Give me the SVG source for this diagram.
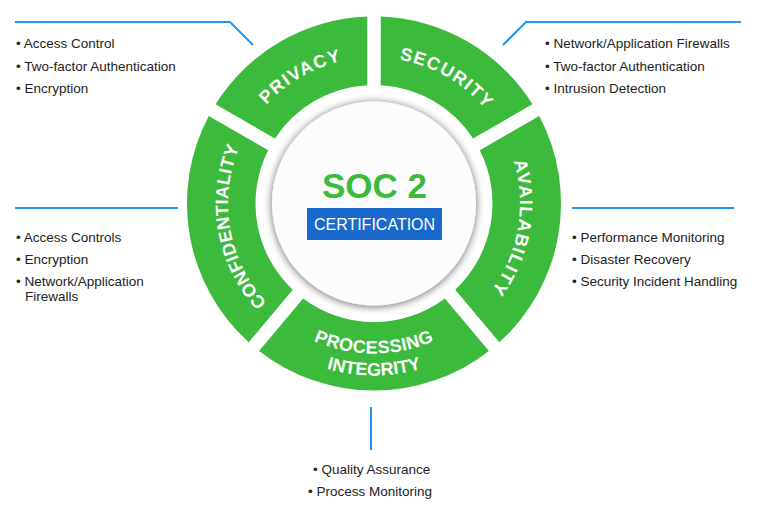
<svg xmlns="http://www.w3.org/2000/svg" xmlns:xlink="http://www.w3.org/1999/xlink" width="768" height="509" viewBox="0 0 768 509">
<style>
.seg{fill:#3bba3b}
.lbl{font-family:"Liberation Sans",Arial,sans-serif;font-weight:bold;font-size:18px;fill:#ffffff}
.li{font-family:"Liberation Sans",Arial,sans-serif;font-size:13.5px;fill:#222222}
.con{stroke:#2196f3;stroke-width:2;fill:none}
</style>
<defs>
<filter id="sh" x="-20%" y="-20%" width="140%" height="140%">
<feGaussianBlur in="SourceAlpha" stdDeviation="4"/>
<feOffset dx="0" dy="1" result="b"/>
<feComponentTransfer><feFuncA type="linear" slope="0.6"/></feComponentTransfer>
<feMerge><feMergeNode/><feMergeNode in="SourceGraphic"/></feMerge>
</filter>
<path id="pPrivacy" d="M228,203.5 A146,146 0 0 1 447,77.06"/>
<path id="pSecurity" d="M301,77.06 A146,146 0 0 1 520,203.5"/>
<path id="pAvail" d="M467.85,91.66 A146,146 0 0 1 423.93,340.69"/>
<path id="pConf" d="M324.07,340.69 A146,146 0 0 1 280.15,91.66"/>
<path id="pProc" d="M244.1,278.5 A150,150 0 0 0 503.9,278.5"/>
<path id="pInteg" d="M225.04,289.5 A172,172 0 0 0 522.96,289.5"/>
</defs>
<rect width="768" height="509" fill="#ffffff"/>

<g id="connectors">
<polyline class="con" points="15,22 230,22 253,45"/>
<polyline class="con" points="503,45 526,22 741,22"/>
<line class="con" x1="15" y1="208" x2="178" y2="208"/>
<line class="con" x1="572" y1="208" x2="734" y2="208"/>
<line class="con" x1="371" y1="407" x2="371" y2="450"/>
</g>

<g id="node-security">
<path class="seg" d="M380.75,16.62 A187,187 0 0 1 532.47,104.21 L473.08,138.5 A118.5,118.5 0 0 0 380.75,85.19 Z"/>
<text class="lbl" letter-spacing="1.4"><textPath xlink:href="#pSecurity" href="#pSecurity" startOffset="50%" text-anchor="middle">SECURITY</textPath></text>
</g>
<g id="node-availability">
<path class="seg" d="M539.22,115.91 A187,187 0 0 1 499.3,342.32 L455.22,289.79 A118.5,118.5 0 0 0 479.83,150.19 Z"/>
<text class="lbl" letter-spacing="1.3"><textPath xlink:href="#pAvail" href="#pAvail" startOffset="50%" text-anchor="middle">AVAILABILITY</textPath></text>
</g>
<g id="node-processing">
<path class="seg" d="M488.95,351 A187,187 0 0 1 259.05,351 L303.12,298.47 A118.5,118.5 0 0 0 444.88,298.47 Z"/>
<text class="lbl" letter-spacing="0.4"><textPath xlink:href="#pProc" href="#pProc" startOffset="50%" text-anchor="middle">PROCESSING</textPath></text>
<text class="lbl"><textPath xlink:href="#pInteg" href="#pInteg" startOffset="50%" text-anchor="middle">INTEGRITY</textPath></text>
</g>
<g id="node-confidentiality">
<path class="seg" d="M248.7,342.32 A187,187 0 0 1 208.78,115.91 L268.17,150.19 A118.5,118.5 0 0 0 292.78,289.79 Z"/>
<text class="lbl" letter-spacing="0.3"><textPath xlink:href="#pConf" href="#pConf" startOffset="50%" text-anchor="middle">CONFIDENTIALITY</textPath></text>
</g>
<g id="node-privacy">
<path class="seg" d="M215.53,104.21 A187,187 0 0 1 367.25,16.62 L367.25,85.19 A118.5,118.5 0 0 0 274.92,138.5 Z"/>
<text class="lbl" letter-spacing="1.5"><textPath xlink:href="#pPrivacy" href="#pPrivacy" startOffset="50%" text-anchor="middle">PRIVACY</textPath></text>
</g>

<g id="node-center">
<circle cx="374" cy="203.5" r="102" fill="#fcfcfc" filter="url(#sh)"/>
<text x="374.5" y="198" text-anchor="middle" font-family="'Liberation Sans',Arial,sans-serif" font-weight="bold" font-size="35" fill="#3bba3b">SOC 2</text>
<rect x="307" y="208" width="135" height="32" fill="#1a69cc"/>
<text x="374.5" y="230" text-anchor="middle" font-family="'Liberation Sans',Arial,sans-serif" font-size="16" fill="#ffffff">CERTIFICATION</text>
</g>

<g id="list-privacy">
<text class="li" x="16" y="48">• Access Control</text>
<text class="li" x="16" y="70.5">• Two-factor Authentication</text>
<text class="li" x="16" y="93">• Encryption</text>
</g>
<g id="list-security">
<text class="li" x="545" y="48">• Network/Application Firewalls</text>
<text class="li" x="545" y="70.5">• Two-factor Authentication</text>
<text class="li" x="545" y="93">• Intrusion Detection</text>
</g>
<g id="list-confidentiality">
<text class="li" x="16" y="242">• Access Controls</text>
<text class="li" x="16" y="264">• Encryption</text>
<text class="li" x="16" y="286">• Network/Application</text>
<text class="li" x="25" y="301">Firewalls</text>
</g>
<g id="list-availability">
<text class="li" x="572" y="242">• Performance Monitoring</text>
<text class="li" x="572" y="264">• Disaster Recovery</text>
<text class="li" x="572" y="286">• Security Incident Handling</text>
</g>
<g id="list-processing">
<text class="li" x="313" y="474">• Quality Assurance</text>
<text class="li" x="308" y="496">• Process Monitoring</text>
</g>
</svg>
